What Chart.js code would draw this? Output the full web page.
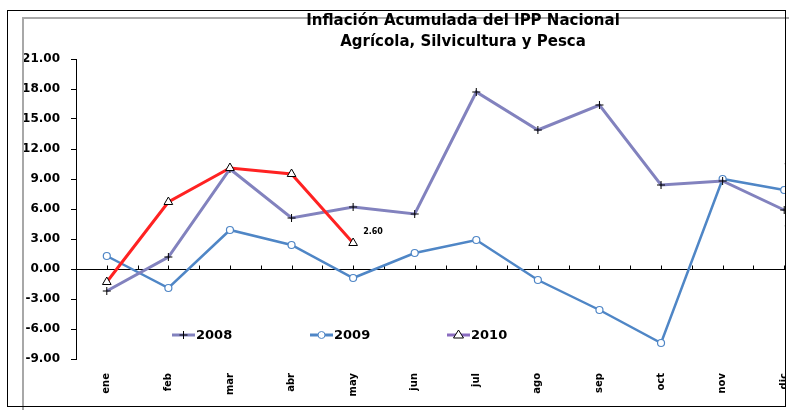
<!DOCTYPE html>
<html>
<head>
<meta charset="utf-8">
<script src="https://cdn.jsdelivr.net/npm/chart.js@4/dist/chart.umd.min.js"></script>
<style>
  html, body { margin:0; padding:0; background:#fff; width:789px; height:410px; overflow:hidden; position:relative; font-family:"DejaVu Sans", Arial, sans-serif; }
  #frame { position:absolute; left:7px; top:10px; width:779px; height:397px; border:1px solid #000; box-sizing:border-box; z-index:5; }
  #grayV { position:absolute; left:22px; top:17px; width:2px; height:393px; background:#a8a8a8; z-index:4; }
  #grayH { position:absolute; left:22px; top:17px; width:767px; height:2px; background:#a8a8a8; }
  #wrap { position:absolute; left:0; top:0; width:785px; height:410px; overflow:hidden; z-index:2; }
  #title { position:absolute; left:213px; width:500px; top:10px; text-align:center; font-weight:bold; font-size:15px; line-height:21px; color:#000; z-index:6; font-family:"DejaVu Sans", Arial, sans-serif; }
</style>
</head>
<body>
<div id="grayH"></div>
<div id="wrap"><canvas id="c" width="830" height="410"></canvas></div>
<div id="grayV"></div>
<div id="frame"></div>
<div id="title">Inflación Acumulada del IPP Nacional<br>Agrícola, Silvicultura y Pesca</div>
<script>
const months = ['ene','feb','mar','abr','may','jun','jul','ago','sep','oct','nov','dic'];
const s2008 = [-2.2, 1.2, 10.0, 5.1, 6.2, 5.5, 17.7, 13.9, 16.4, 8.4, 8.8, 5.9];
const s2009 = [1.3, -1.9, 3.9, 2.4, -0.9, 1.6, 2.9, -1.1, -4.1, -7.4, 9.0, 7.9];
const s2010 = [-1.3, 6.7, 10.1, 9.5, 2.6];
const seriesNames = ['2008', '2009', '2010'];
const yTicks = [-9, -6, -3, 0, 3, 6, 9, 12, 15, 18, 21];

const FONT = '"DejaVu Sans", Arial, sans-serif';

const zeroLinePlugin = {
  id: 'zeroLine',
  beforeDatasetsDraw(chart) {
    const {ctx, chartArea, scales} = chart;
    const y0 = Math.round(scales.y.getPixelForValue(0)) + 0.5;
    ctx.save();
    ctx.strokeStyle = '#000';
    ctx.lineWidth = 1;
    ctx.beginPath();
    ctx.moveTo(chartArea.left, y0);
    ctx.lineTo(chartArea.right, y0);
    const half = (scales.x.getPixelForValue(1) - scales.x.getPixelForValue(0)) / 2;
    for (let i = 0; i < months.length; i++) {
      const x = scales.x.getPixelForValue(i);
      [x, x + half].forEach(px => {
        ctx.moveTo(Math.round(px) + 0.5, y0);
        ctx.lineTo(Math.round(px) + 0.5, y0 - 4);
      });
    }
    ctx.stroke();
    ctx.restore();
  }
};

const legendPlugin = {
  id: 'customLegend',
  afterDraw(chart) {
    const {ctx, scales} = chart;
    const yL = scales.y.getPixelForValue(-6.6);
    const starts = [172, 310, 447];
    ctx.save();
    chart.data.datasets.forEach(ds => {
      const x0 = starts[ds.legendIndex];
      ctx.strokeStyle = ds.legendColor || ds.borderColor;
      ctx.lineWidth = 3;
      ctx.beginPath();
      ctx.moveTo(x0, yL);
      ctx.lineTo(x0 + 23, yL);
      ctx.stroke();
      const cx = x0 + 11.5;
      ctx.lineWidth = 1;
      ctx.strokeStyle = ds.pointBorderColor;
      ctx.fillStyle = ds.pointBackgroundColor;
      if (ds.pointStyle === 'cross') {
        ctx.beginPath();
        ctx.moveTo(cx - 4, yL); ctx.lineTo(cx + 4, yL);
        ctx.moveTo(cx, yL - 4); ctx.lineTo(cx, yL + 4);
        ctx.stroke();
      } else if (ds.pointStyle === 'circle') {
        ctx.beginPath();
        ctx.arc(cx, yL, 3.5, 0, Math.PI * 2);
        ctx.fill(); ctx.stroke();
      } else if (ds.pointStyle === 'triangle') {
        ctx.beginPath();
        ctx.moveTo(cx, yL - 5); ctx.lineTo(cx + 5, yL + 3); ctx.lineTo(cx - 5, yL + 3); ctx.closePath();
        ctx.fill(); ctx.stroke();
      }
      ctx.fillStyle = '#000';
      ctx.font = 'bold 13px ' + FONT;
      ctx.textAlign = 'left';
      ctx.textBaseline = 'middle';
      ctx.fillText(ds.label, x0 + 24, yL + 1);
    });
    ctx.restore();
  }
};

const dataLabelPlugin = {
  id: 'pointLabels',
  afterDatasetsDraw(chart) {
    const {ctx} = chart;
    const specs = [
      {label: '2010', idx: 4, dx: 10, dy: -11},
      {label: '2009', idx: 11, dx: 0, dy: -22},
      {label: '2008', idx: 11, dx: 0, dy: 15}
    ];
    ctx.save();
    ctx.fillStyle = '#000';
    ctx.font = 'bold 8px ' + FONT;
    ctx.textAlign = 'left';
    ctx.textBaseline = 'middle';
    specs.forEach(s => {
      const di = chart.data.datasets.findIndex(d => d.label === s.label);
      const el = chart.getDatasetMeta(di).data[s.idx];
      const v = chart.data.datasets[di].data[s.idx];
      ctx.fillText(v.toFixed(2), el.x + s.dx, el.y + s.dy);
    });
    ctx.restore();
  }
};

new Chart(document.getElementById('c'), {
  type: 'line',
  data: {
    labels: months,
    datasets: [
      {
        label: seriesNames[0], data: s2008, legendIndex: 0, order: 1,
        borderColor: '#8282BE', borderWidth: 3, tension: 0,
        pointStyle: 'cross', pointRadius: 4, pointBorderColor: '#000', pointBackgroundColor: '#000', pointBorderWidth: 1
      },
      {
        label: seriesNames[1], data: s2009, legendIndex: 1, order: 2,
        borderColor: '#4F86C6', borderWidth: 2.5, tension: 0,
        pointStyle: 'circle', pointRadius: 3.5, pointBorderColor: '#4F86C6', pointBackgroundColor: '#fff', pointBorderWidth: 1.2
      },
      {
        label: seriesNames[2], data: s2010, legendIndex: 2, order: 0, legendColor: '#8A6CC0',
        borderColor: '#FF2222', borderWidth: 3, tension: 0,
        pointStyle: 'triangle', pointRadius: 5, pointBorderColor: '#000', pointBackgroundColor: '#fff', pointBorderWidth: 1
      }
    ]
  },
  options: {
    responsive: false,
    animation: false,
    devicePixelRatio: 1,
    layout: { padding: { left: 0, top: 59, right: 15, bottom: 0 } },
    plugins: { legend: { display: false }, title: { display: false }, tooltip: { enabled: false } },
    scales: {
      x: {
        type: 'category',
        offset: true,
        grid: { display: false },
        border: { display: false },
        afterFit: s => { s.height = 51; },
        ticks: {
          autoSkip: false, minRotation: 90, maxRotation: 90, padding: 6,
          color: '#000', font: { family: FONT, size: 10, weight: 'bold' }
        }
      },
      y: {
        min: -9, max: 21,
        afterFit: s => { s.width = 76; },
        afterBuildTicks: s => { s.ticks = yTicks.map(v => ({ value: v })); },
        grid: { display: true, drawOnChartArea: false, drawTicks: true, tickLength: 5, color: '#000' },
        border: { display: true, color: '#000', width: 1 },
        ticks: {
          padding: 11, color: '#000',
          font: { family: FONT, size: 12, weight: 'bold' },
          callback: v => Number(v).toFixed(2)
        }
      }
    }
  },
  plugins: [zeroLinePlugin, dataLabelPlugin, legendPlugin]
});
</script>
</body>
</html>
